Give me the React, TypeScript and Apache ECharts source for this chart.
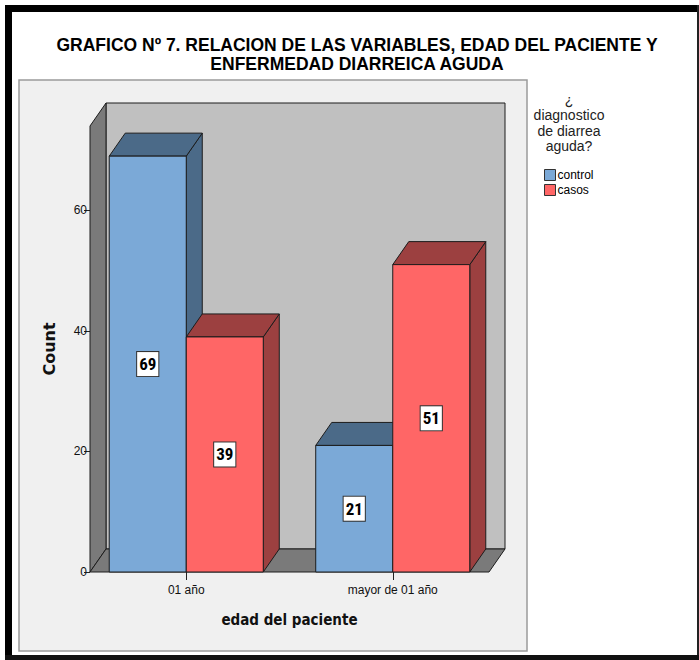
import React, { useEffect, useRef } from 'react';
import * as echarts from 'echarts';

// Age groups on the category axis and counts per diagnosis group
const ageGroups = ['01 año', 'mayor de 01 año'];
const controlCounts = [69, 21];
const casosCounts = [39, 51];
const countTicks = [0, 20, 40, 60];
const diagnosisGroups = ['control', 'casos'];

const titleText = 'GRAFICO Nº 7. RELACION DE LAS VARIABLES, EDAD DEL PACIENTE Y\nENFERMEDAD DIARREICA AGUDA';
const legendTitle = '¿\ndiagnostico\nde diarrea\naguda?';

// Oblique projection of the depth axis (pixels)
const DX = 16;
const DY = -23;
const BAR_SHARE = 0.373; // bar width as a share of the category band
const WALL_INSET = 7;
const OUTLINE = '#1c1c1c';

const COLORS = {
  control: { front: '#7ba9d7', shade: '#4b6a88' },
  casos: { front: '#ff6666', shade: '#9c4040' },
};

function boxRenderer(side: number, front: string, shade: string) {
  return (params: any, api: any) => {
    const cat = api.value(0);
    const val = api.value(1);
    const top = api.coord([cat, val]);
    const base = api.coord([cat, 0]);
    const band = api.size([1, 0])[0];
    const w = band * BAR_SHARE;
    const x0 = side === 0 ? top[0] - w : top[0];
    const x1 = x0 + w;
    const yT = top[1];
    const yB = base[1];
    const mid = api.coord([cat, val / 2]);
    const stroke = { stroke: OUTLINE, lineWidth: 1 };
    return {
      type: 'group',
      children: [
        {
          type: 'polygon',
          shape: { points: [[x1, yB], [x1 + DX, yB + DY], [x1 + DX, yT + DY], [x1, yT]] },
          style: { fill: shade, ...stroke },
        },
        {
          type: 'polygon',
          shape: { points: [[x0, yT], [x1, yT], [x1 + DX, yT + DY], [x0 + DX, yT + DY]] },
          style: { fill: shade, ...stroke },
        },
        {
          type: 'rect',
          shape: { x: x0, y: yT, width: w, height: yB - yT },
          style: { fill: front, ...stroke },
        },
        {
          type: 'text',
          x: (x0 + x1) / 2,
          y: mid[1],
          style: {
            text: String(val),
            align: 'center',
            verticalAlign: 'middle',
            fontFamily: '"Liberation Sans Narrow", "Roboto Condensed", "DejaVu Sans Condensed", sans-serif',
            fontWeight: 'bold',
            fontSize: 17,
            fill: '#000',
            backgroundColor: '#ffffff',
            borderColor: '#333333',
            borderWidth: 1,
            padding: [4, 2, 3, 2],
          },
        },
      ],
    };
  };
}

function wallRenderer(params: any) {
  const cs = params.coordSys;
  const xL = cs.x + WALL_INSET;
  const xR = cs.x + cs.width - WALL_INSET;
  const yT = cs.y;
  const yB = cs.y + cs.height;
  const stroke = { stroke: OUTLINE, lineWidth: 1 };
  return {
    type: 'group',
    children: [
      {
        type: 'rect',
        shape: { x: xL + DX, y: yT + DY, width: xR - xL, height: yB - yT },
        style: { fill: '#c0c0c0', ...stroke },
      },
      {
        type: 'polygon',
        shape: { points: [[xL, yB], [xL + DX, yB + DY], [xL + DX, yT + DY], [xL, yT]] },
        style: { fill: '#7a7a7a', ...stroke },
      },
      {
        type: 'polygon',
        shape: { points: [[xL, yB], [xR, yB], [xR + DX, yB + DY], [xL + DX, yB + DY]] },
        style: { fill: '#7a7a7a', ...stroke },
      },
    ],
  };
}

export default function App() {
  const ref = useRef<HTMLDivElement>(null);

  useEffect(() => {
    if (!ref.current) return;
    const chart = echarts.init(ref.current, null, { renderer: 'svg' });
    const sans = '"Liberation Sans", Arial, sans-serif';

    chart.setOption({
      animation: false,
      backgroundColor: '#ffffff',
      graphic: [
        // frame
        { type: 'rect', shape: { x: 5, y: 5, width: 694, height: 7 }, style: { fill: '#000' } },
        { type: 'rect', shape: { x: 5, y: 5, width: 7, height: 655 }, style: { fill: '#000' } },
        { type: 'rect', shape: { x: 697, y: 5, width: 2, height: 655 }, style: { fill: '#222' } },
        { type: 'rect', shape: { x: 5, y: 655, width: 694, height: 5 }, style: { fill: '#111' } },
        // chart panel
        {
          type: 'rect',
          shape: { x: 19, y: 80, width: 508, height: 571 },
          style: { fill: '#f0f0f0', stroke: '#9a9a9a', lineWidth: 1.5 },
        },
        {
          type: 'text',
          x: 357,
          y: 35,
          style: {
            text: titleText,
            align: 'center',
            verticalAlign: 'top',
            fontFamily: sans,
            fontWeight: 'bold',
            fontSize: 17.5,
            lineHeight: 19,
            fill: '#000',
          },
        },
        {
          type: 'text',
          x: 569,
          y: 92,
          style: {
            text: legendTitle,
            align: 'center',
            verticalAlign: 'top',
            fontFamily: sans,
            fontSize: 14,
            lineHeight: 15.5,
            fill: '#222',
          },
        },
      ],
      legend: {
        data: diagnosisGroups,
        orient: 'vertical',
        left: 544,
        top: 169,
        icon: 'rect',
        itemWidth: 11,
        itemHeight: 11,
        itemGap: 3,
        padding: 0,
        selectedMode: false,
        itemStyle: { borderColor: '#333', borderWidth: 1 },
        textStyle: { fontFamily: sans, fontSize: 12, color: '#000', padding: [0, 0, 0, -3] },
      },
      grid: { left: 83, right: 203, top: 126, bottom: 88 },
      xAxis: {
        type: 'category',
        data: ageGroups,
        axisLine: { show: false },
        axisTick: { show: true, alignWithLabel: true, length: 8, lineStyle: { color: '#222' } },
        axisLabel: { fontFamily: sans, fontSize: 12, color: '#111', margin: 12 },
        name: 'edad del paciente',
        nameLocation: 'middle',
        nameGap: 40,
        nameTextStyle: {
          fontFamily: '"DejaVu Sans Condensed", "DejaVu Sans", sans-serif',
          fontWeight: 'bold',
          fontSize: 15,
          color: '#111',
        },
      },
      yAxis: {
        type: 'value',
        min: 0,
        max: 74,
        interval: 20,
        offset: -WALL_INSET,
        axisLine: { show: false },
        splitLine: { show: false },
        axisTick: { show: true, length: 6, customValues: countTicks, lineStyle: { color: '#222' } },
        axisLabel: {
          fontFamily: sans,
          fontSize: 12,
          color: '#111',
          margin: 3,
          customValues: countTicks,
        },
        name: 'Count',
        nameLocation: 'middle',
        nameRotate: 90,
        nameGap: 33,
        nameTextStyle: {
          fontFamily: '"DejaVu Sans", sans-serif',
          fontWeight: 'bold',
          fontSize: 16,
          color: '#111',
        },
      },
      series: [
        {
          type: 'custom',
          name: 'walls',
          silent: true,
          renderItem: wallRenderer,
          data: [[0, 0]],
          encode: { x: 0, y: 1 },
          z: 1,
        },
        {
          type: 'custom',
          name: diagnosisGroups[0],
          renderItem: boxRenderer(0, COLORS.control.front, COLORS.control.shade),
          itemStyle: { color: COLORS.control.front },
          data: controlCounts.map((v, i) => [i, v]),
          encode: { x: 0, y: 1 },
          z: 2,
        },
        {
          type: 'custom',
          name: diagnosisGroups[1],
          renderItem: boxRenderer(1, COLORS.casos.front, COLORS.casos.shade),
          itemStyle: { color: COLORS.casos.front },
          data: casosCounts.map((v, i) => [i, v]),
          encode: { x: 0, y: 1 },
          z: 3,
        },
      ],
    });

    return () => chart.dispose();
  }, []);

  return (
    <div
      ref={ref}
      style={{ position: 'fixed', left: 0, top: 0, width: 699, height: 660 }}
    />
  );
}
